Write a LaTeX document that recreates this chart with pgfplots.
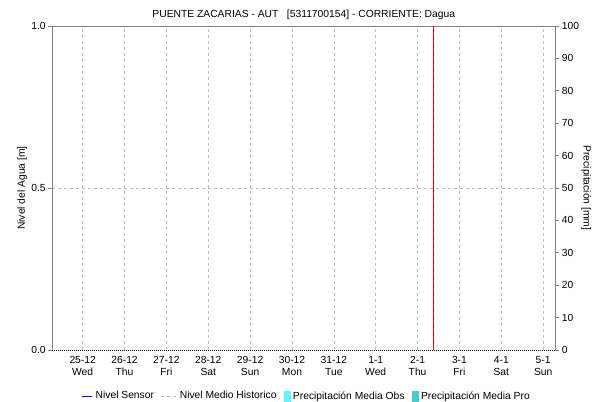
\documentclass[border=0pt]{standalone}
\usepackage{pgfplots}
\pgfplotsset{compat=1.18}
\usepackage{fontspec}
\setmainfont{Liberation Sans}
\definecolor{gridgray}{RGB}{190,190,190}
\definecolor{axgray}{RGB}{128,128,128}
\definecolor{obscyan}{RGB}{100,245,255}
\definecolor{proteal}{RGB}{72,204,204}
\definecolor{darkred}{RGB}{110,0,0}
\newcommand{\ff}{\fontsize{10.3}{11.5}\selectfont}
\begin{document}
\ff
\begin{tikzpicture}[x=1pt,y=1pt]
\path[use as bounding box] (0,0) rectangle (593,401);
\begin{axis}[
  at={(52.3pt,51pt)}, anchor=south west, scale only axis,
  width=503pt, height=324pt,
  xmin=-0.726, xmax=11.29, ymin=0, ymax=1,
  axis line style={draw=none},
  xtick={0,...,11},
  xticklabels={{25-12\\Wed},{26-12\\Thu},{27-12\\Fri},{28-12\\Sat},{29-12\\Sun},{30-12\\Mon},{31-12\\Tue},{1-1\\Wed},{2-1\\Thu},{3-1\\Fri},{4-1\\Sat},{5-1\\Sun}},
  xticklabel style={align=center, font=\ff, yshift=1pt},
  xmajorgrids,
  major x tick style={draw=none},
  ytick={0,1}, yticklabels={0.0,1.0},
  extra y ticks={0.5}, extra y tick labels={0.5},
  extra y tick style={ymajorgrids=true},
  ytick pos=left, tick align=outside, major tick length=4pt,
  y tick style={axgray, line width=0.6pt},
  yticklabel style={font=\ff, xshift=1pt},
  /pgf/number format/assume math mode=true,
  grid style={gridgray, line width=0.7pt, dash pattern=on 3pt off 3pt},
  clip=false,
]
\draw[axgray, line width=0.8pt] (rel axis cs:0,0) -- (rel axis cs:0,1) -- (rel axis cs:1,1) -- (rel axis cs:1,0);
\draw[black, line width=0.9pt, dash pattern=on 1pt off 1pt] (rel axis cs:0,0) -- (rel axis cs:1,0);
\addplot[darkred, line width=0.9pt, forget plot] coordinates {(8.38,0) (8.38,1)};
\addplot[red, line width=0.9pt, dash pattern=on 6pt off 2pt, forget plot] coordinates {(8.38,0) (8.38,1)};
\node[rotate=90, anchor=center, font=\ff] at ([xshift=-30pt]rel axis cs:0,0.5) {Nivel del Agua [m]};
\node[rotate=-90, anchor=center, font=\ff] at ([xshift=31pt]rel axis cs:1,0.5) {Precipitación [mm]};
\end{axis}
\begin{axis}[
  at={(52.3pt,51pt)}, anchor=south west, scale only axis,
  width=503pt, height=324pt,
  xmin=-0.726, xmax=11.29, ymin=0, ymax=100,
  axis x line=none, axis y line*=right,
  axis line style={axgray, line width=0.8pt, -},
  ytick={0,10,...,100},
  tick align=outside, major tick length=4pt,
  y tick style={axgray, line width=0.6pt},
  yticklabel style={font=\ff, xshift=-1pt},
  /pgf/number format/assume math mode=true,
  title={PUENTE ZACARIAS - AUT\ \ \ [5311700154] - CORRIENTE: Dagua},
  title style={font=\ff, yshift=-3pt},
  legend columns=4,
  legend style={at={(rel axis cs:0.506,-0.142)}, anchor=center, draw=none, fill=none,
    font=\ff, inner sep=0pt,
    /tikz/every odd column/.append style={column sep=1pt},
    /tikz/every even column/.append style={column sep=5pt}},
  legend cell align=left,
  clip=false,
]
\addlegendimage{legend image code/.code={\draw[blue, line width=0.8pt] (0pt,0pt) -- (10pt,0pt);}}
\addlegendentry{Nivel Sensor}
\addlegendimage{legend image code/.code={\draw[gridgray, line width=0.8pt, dash pattern=on 3pt off 3pt] (0pt,0pt) -- (15pt,0pt);}}
\addlegendentry{Nivel Medio Historico}
\addlegendimage{legend image code/.code={\fill[obscyan] (0pt,-5pt) rectangle (6pt,5pt);}}
\addlegendentry{Precipitación Media Obs}
\addlegendimage{legend image code/.code={\fill[proteal] (0pt,-5pt) rectangle (6pt,5pt);}}
\addlegendentry{Precipitación Media Pro}
\end{axis}
\end{tikzpicture}
\end{document}
